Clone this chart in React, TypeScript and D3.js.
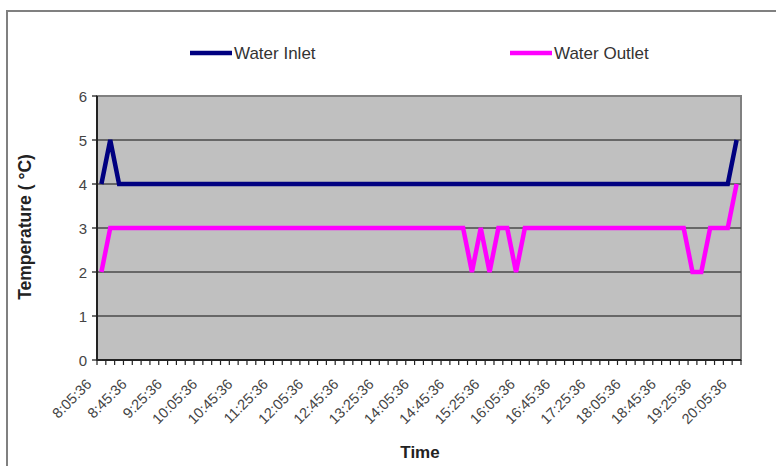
import React from "react";
import * as d3 from "d3";

const times: string[] = [
  "8:05:36", "8:15:36", "8:25:36", "8:35:36", "8:45:36", "8:55:36",
  "9:05:36", "9:15:36", "9:25:36", "9:35:36", "9:45:36", "9:55:36",
  "10:05:36", "10:15:36", "10:25:36", "10:35:36", "10:45:36", "10:55:36",
  "11:05:36", "11:15:36", "11:25:36", "11:35:36", "11:45:36", "11:55:36",
  "12:05:36", "12:15:36", "12:25:36", "12:35:36", "12:45:36", "12:55:36",
  "13:05:36", "13:15:36", "13:25:36", "13:35:36", "13:45:36", "13:55:36",
  "14:05:36", "14:15:36", "14:25:36", "14:35:36", "14:45:36", "14:55:36",
  "15:05:36", "15:15:36", "15:25:36", "15:35:36", "15:45:36", "15:55:36",
  "16:05:36", "16:15:36", "16:25:36", "16:35:36", "16:45:36", "16:55:36",
  "17:05:36", "17:15:36", "17:25:36", "17:35:36", "17:45:36", "17:55:36",
  "18:05:36", "18:15:36", "18:25:36", "18:35:36", "18:45:36", "18:55:36",
  "19:05:36", "19:15:36", "19:25:36", "19:35:36", "19:45:36", "19:55:36",
  "20:05:36",
];

const waterInlet: number[] = [
  4, 5, 4, 4, 4, 4, 4, 4, 4, 4,
  4, 4, 4, 4, 4, 4, 4, 4, 4, 4,
  4, 4, 4, 4, 4, 4, 4, 4, 4, 4,
  4, 4, 4, 4, 4, 4, 4, 4, 4, 4,
  4, 4, 4, 4, 4, 4, 4, 4, 4, 4,
  4, 4, 4, 4, 4, 4, 4, 4, 4, 4,
  4, 4, 4, 4, 4, 4, 4, 4, 4, 4,
  4, 4, 5,
];

const waterOutlet: number[] = [
  2, 3, 3, 3, 3, 3, 3, 3, 3, 3,
  3, 3, 3, 3, 3, 3, 3, 3, 3, 3,
  3, 3, 3, 3, 3, 3, 3, 3, 3, 3,
  3, 3, 3, 3, 3, 3, 3, 3, 3, 3,
  3, 3, 2, 3, 2, 3, 3, 2, 3, 3,
  3, 3, 3, 3, 3, 3, 3, 3, 3, 3,
  3, 3, 3, 3, 3, 3, 3, 2, 2, 3,
  3, 3, 4,
];

const yTicks: number[] = [0, 1, 2, 3, 4, 5, 6];
const seriesNames: string[] = ["Water Inlet", "Water Outlet"];
const seriesColors: string[] = ["#000080", "#FF00FF"];

const W = 776;
const H = 466;
const FONT = "'Liberation Sans', Arial, Helvetica, sans-serif";

export default function App() {
  const left = 97, right = 741, top = 96, bottom = 360;
  const x = d3.scaleBand<string>().domain(times).range([left, right]).padding(0);
  const bw = x.bandwidth();
  const cx = (t: string) => (x(t) as number) + bw / 2;
  const y = d3.scaleLinear().domain([0, 6]).range([bottom, top]);

  const line = d3
    .line<number>()
    .x((_, i) => cx(times[i]))
    .y((d) => y(d));

  const series = [waterInlet, waterOutlet];
  const tickXs = d3.range(times.length + 1).map((i) => left + i * bw);
  const legendX = [190, 510];

  return (
    <svg
      width={W}
      height={H}
      style={{ position: "absolute", left: 0, top: 0, background: "#fff" }}
      fontFamily={FONT}
    >
      <rect x={7} y={11} width={800} height={520} fill="#fff" stroke="#808080" strokeWidth={2} />

      {/* legend */}
      {seriesNames.map((name, k) => {
        const lx = legendX[k];
        return (
          <g key={name}>
            <line x1={lx} x2={lx + 42} y1={53} y2={53} stroke={seriesColors[k]} strokeWidth={4.5} />
            <text x={lx + 44} y={59} fontSize={17} fill="#333">
              {name}
            </text>
          </g>
        );
      })}

      {/* plot area */}
      <rect x={left} y={top} width={right - left} height={bottom - top} fill="#C0C0C0" stroke="#808080" strokeWidth={2} />
      {yTicks.filter((v) => v > 0 && v < 6).map((v) => (
        <line key={v} x1={left} x2={right} y1={y(v)} y2={y(v)} stroke="#4a4a4a" strokeWidth={1.4} />
      ))}

      {/* axes */}
      <line x1={left} x2={left} y1={top} y2={bottom} stroke="#222" strokeWidth={2} />
      <line x1={left} x2={right} y1={bottom} y2={bottom} stroke="#222" strokeWidth={2} />
      {yTicks.map((v) => (
        <g key={v}>
          <line x1={left - 5} x2={left} y1={y(v)} y2={y(v)} stroke="#222" strokeWidth={1.3} />
          <text x={left - 10} y={y(v) + 5.5} textAnchor="end" fontSize={15} fill="#444">
            {v}
          </text>
        </g>
      ))}
      {tickXs.map((tx, i) => (
        <line key={i} x1={tx} x2={tx} y1={bottom} y2={bottom + 5} stroke="#222" strokeWidth={1.2} />
      ))}
      {times.map((t, i) =>
        i % 4 === 0 ? (
          <text
            key={t}
            transform={`translate(${cx(t) - 9},${bottom + 25}) rotate(-45)`}
            textAnchor="end"
            fontSize={14.5}
            fill="#444"
          >
            {t}
          </text>
        ) : null
      )}

      {/* series */}
      {series.map((s, k) => (
        <path
          key={k}
          d={line(s) as string}
          fill="none"
          stroke={seriesColors[k]}
          strokeWidth={4.5}
          strokeLinejoin="miter"
        />
      ))}

      {/* axis titles */}
      <text
        transform={`translate(31,227) rotate(-90)`}
        textAnchor="middle"
        fontSize={17.5}
        fontWeight="bold"
        fill="#222"
      >
        Temperature ( °C)
      </text>
      <text x={420} y={458} textAnchor="middle" fontSize={17} fontWeight="bold" fill="#222">
        Time
      </text>
    </svg>
  );
}
